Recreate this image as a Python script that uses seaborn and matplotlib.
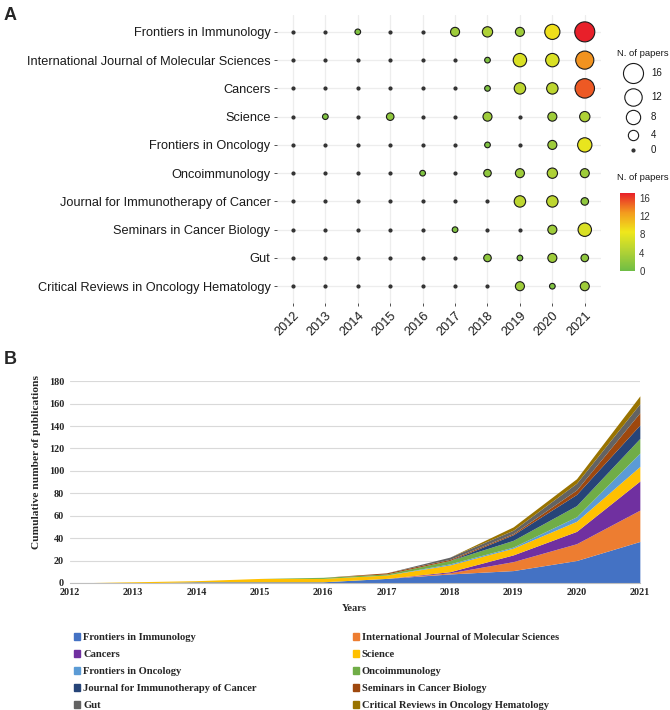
import numpy as np
import pandas as pd
import matplotlib
matplotlib.use("Agg")
from matplotlib import pyplot as plt
from matplotlib.colors import LinearSegmentedColormap, Normalize
from matplotlib.patches import Patch
import seaborn as sns

years = [2012, 2013, 2014, 2015, 2016, 2017, 2018, 2019, 2020, 2021]
journals = [
    "Frontiers in Immunology",
    "International Journal of Molecular Sciences",
    "Cancers",
    "Science",
    "Frontiers in Oncology",
    "Oncoimmunology",
    "Journal for Immunotherapy of Cancer",
    "Seminars in Cancer Biology",
    "Gut",
    "Critical Reviews in Oncology Hematology",
]
# papers per year, one list per journal (2012..2021)
front_immunol = [0, 0, 1, 0, 0, 3, 4, 3, 9, 17]
int_j_mol_sci = [0, 0, 0, 0, 0, 0, 1, 7, 7, 13]
cancers = [0, 0, 0, 0, 0, 0, 1, 5, 5, 15]
science = [0, 1, 0, 2, 0, 0, 3, 0, 3, 4]
front_oncol = [0, 0, 0, 0, 0, 0, 1, 0, 3, 8]
oncoimmunology = [0, 0, 0, 0, 1, 0, 2, 3, 4, 3]
j_immunother_cancer = [0, 0, 0, 0, 0, 0, 0, 5, 5, 2]
semin_cancer_biol = [0, 0, 0, 0, 0, 1, 0, 0, 3, 7]
gut = [0, 0, 0, 0, 0, 0, 2, 1, 3, 2]
crit_rev_oncol_hematol = [0, 0, 0, 0, 0, 0, 0, 3, 1, 3]
counts = [front_immunol, int_j_mol_sci, cancers, science, front_oncol,
          oncoimmunology, j_immunother_cancer, semin_cancer_biol, gut,
          crit_rev_oncol_hematol]

area_colors = ["#4472C4", "#ED7D31", "#7030A0", "#FFC000", "#5B9BD5",
               "#70AD47", "#264478", "#9E480E", "#636363", "#997300"]
size_levels = [16, 12, 8, 4, 0]
bar_ticks = [0, 4, 8, 12, 16]

rows = []
for i, (j, c) in enumerate(zip(journals, counts)):
    for y, n in zip(years, c):
        rows.append({"journal": j, "row": i, "year": y, "n": n})
df = pd.DataFrame(rows)

sns.set_style("white")
plt.rcParams["font.family"] = ["Liberation Sans", "DejaVu Sans"]

cmap = LinearSegmentedColormap.from_list(
    "gyr", [(0, "#6FBD45"), (0.25, "#B2D235"), (0.5, "#EFE81B"),
            (0.75, "#F39A1E"), (1, "#E8202A")])
nmax = max(max(c) for c in counts)
norm = Normalize(0, nmax)
smin, smax = 4.0, 208


def size_of(n):
    return smin + (smax - smin) * n / 16


fig = plt.figure(figsize=(6.7, 7.1), dpi=100)

# ---- panel A: bubble chart
ax = fig.add_axes([0.413, 0.573, 0.484, 0.406])
for i in range(len(journals)):
    ax.axhline(i, color="#EDEDED", lw=0.9, zorder=0)
for y in years:
    ax.axvline(y, color="#EDEDED", lw=0.9, zorder=0)
zero = df[df["n"] == 0]
ax.scatter(zero["year"], zero["row"], s=size_of(0), color="#333333", zorder=2)
sns.scatterplot(data=df[df["n"] > 0], x="year", y="row", hue="n", size="n",
                hue_norm=norm, palette=cmap, sizes=(smin, smax),
                size_norm=(0, 16), edgecolor="#1a1a1a", linewidth=0.8,
                legend=False, ax=ax, zorder=3)
ax.set_xlim(2011.5, 2021.5)
ax.set_ylim(len(journals) - 0.4, -0.6)
ax.set_yticks(range(len(journals)))
ax.set_yticklabels(journals)
ax.set_xticks(years)
ax.set_xticklabels([str(y) for y in years], rotation=45, ha="right",
                   rotation_mode="anchor")
ax.tick_params(axis="both", labelsize=9.2, colors="#333333", length=2.5,
               width=0.6, pad=2, left=True, bottom=True)
ax.tick_params(axis="both", labelcolor="#1a1a1a")
ax.set_xlabel("")
ax.set_ylabel("")
for s in ax.spines.values():
    s.set_visible(False)

# size legend, laid out in pixel coordinates
lx = fig.add_axes([610 / 670, 1 - 160 / 710, 60 / 670, 120 / 710])
lx.set_xlim(610, 670)
lx.set_ylim(160, 40)
lx.axis("off")
leg_y = [73, 97, 117, 135, 150]
for v, yy in zip(size_levels, leg_y):
    if v > 0:
        lx.scatter([633], [yy], s=size_of(v), facecolor="white",
                   edgecolor="#1a1a1a", linewidth=0.8, clip_on=False)
    else:
        lx.scatter([633], [yy], s=size_of(0), color="#333333", clip_on=False)
    lx.text(651, yy, str(v), fontsize=7, va="center", color="#1a1a1a")
lx.text(617, 53, "N. of papers", fontsize=6.8, va="center", color="#1a1a1a")

cax = fig.add_axes([620 / 670, 1 - 271 / 710, 15 / 670, 78 / 710])
cb = fig.colorbar(plt.cm.ScalarMappable(norm=norm, cmap=cmap), cax=cax,
                  ticks=bar_ticks)
cb.outline.set_visible(False)
cax.tick_params(labelsize=7, length=3, width=0.6, direction="in",
                color="white", pad=3, labelcolor="#333333")
fig.text(617 / 670, 1 - 178 / 710, "N. of papers", fontsize=6.8, va="center",
         color="#1a1a1a")

fig.text(0.005, 0.99, "A", fontsize=13, fontweight="bold", va="top")
fig.text(0.005, 0.505, "B", fontsize=13, fontweight="bold", va="top")

# ---- panel B: cumulative stacked area
serif = ["Liberation Serif", "DejaVu Serif"]
bx = fig.add_axes([0.104, 0.179, 0.851, 0.284])
cum = [np.cumsum(c) for c in counts]
bx.stackplot(years, *cum, colors=area_colors, lw=0)
bx.set_xlim(2012, 2021)
bx.set_ylim(0, 180)
bx.set_yticks(range(0, 181, 20))
bx.set_xticks(years)
bx.yaxis.grid(True, color="#D9D9D9", lw=0.8)
bx.set_axisbelow(True)
for s in ["top", "right", "left"]:
    bx.spines[s].set_visible(False)
bx.spines["bottom"].set_color("#BFBFBF")
bx.tick_params(axis="both", length=0, labelsize=7.3, pad=4)
for lab in bx.get_xticklabels() + bx.get_yticklabels():
    lab.set_family(serif)
    lab.set_fontweight("bold")
bx.set_xlabel("Years", family=serif, fontweight="bold", fontsize=7.5, labelpad=5)
bx.set_ylabel("Cumulative number of publications", family=serif,
              fontweight="bold", fontsize=8.2)
bx.yaxis.set_label_coords(-0.05, 0.6)

patches = [Patch(color=c) for c in area_colors]
order = [0, 2, 4, 6, 8, 1, 3, 5, 7, 9]
fig.legend([patches[k] for k in order], [journals[k] for k in order],
           loc="upper left", bbox_to_anchor=(0.103, 0.1155), ncol=2,
           frameon=False, prop={"family": serif, "weight": "bold", "size": 7.6},
           handlelength=0.55, handleheight=0.55, handletextpad=0.3,
           labelspacing=0.76, columnspacing=9.1, borderpad=0)

fig.savefig("out.png", dpi=100)
